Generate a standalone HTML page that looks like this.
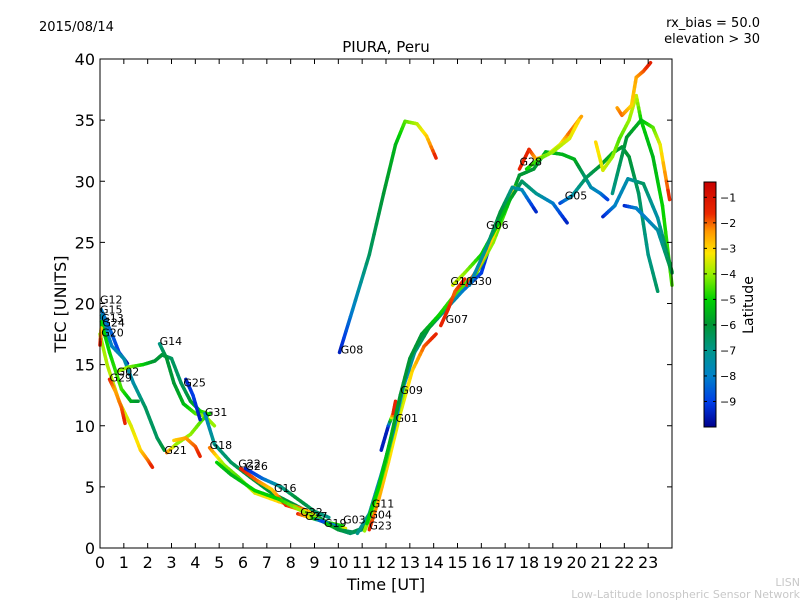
<!DOCTYPE html>
<html><head><meta charset="utf-8">
<style>
body{margin:0;background:#fff;}
svg text{font-family:"DejaVu Sans","Liberation Sans",sans-serif;}
</style></head>
<body>
<svg id="chart" width="800" height="600" xmlns="http://www.w3.org/2000/svg">
<rect width="800" height="600" fill="#fff"/>
<g id="tracks"></g>
<g id="axes"></g>
<text x="39" y="31" font-size="13">2015/08/14</text>
<text x="760" y="27" font-size="13" text-anchor="end">rx_bias = 50.0</text>
<text x="760" y="43" font-size="13" text-anchor="end">elevation &gt; 30</text>
<text x="386" y="52" font-size="15" text-anchor="middle">PIURA, Peru</text>
<text x="386" y="590" font-size="16" text-anchor="middle">Time [UT]</text>
<text x="66" y="304" font-size="16" text-anchor="middle" transform="rotate(-90 66 304)">TEC [UNITS]</text>
<text x="753" y="305" font-size="14" text-anchor="middle" transform="rotate(-90 753 305)">Latitude</text>
<text x="800" y="586" font-size="11" fill="#c8c8c8" text-anchor="end">LISN</text>
<text x="800" y="598" font-size="11" fill="#c8c8c8" text-anchor="end">Low-Latitude Ionospheric Sensor Network</text>
</svg>
<script>
const xTicks=[0,1,2,3,4,5,6,7,8,9,10,11,12,13,14,15,16,17,18,19,20,21,22,23];
const yTicks=[0,5,10,15,20,25,30,35,40];
const cbTicks=[-1,-2,-3,-4,-5,-6,-7,-8,-9];
// tracks: [time, tec, latitude]
const trkG12=[[0.05,19.5,-8],[0.5,17.5,-8.5],[0.8,16,-9],[1.15,15.1,-9.8]];
const trkG15=[[0.05,19,-7.5],[0.5,16.5,-8],[1.0,15.5,-7.5],[1.4,13.5,-7.5],[1.9,11.5,-6.5],[2.4,9,-6.5],[2.7,8,-6]];
const trkG24=[[0.05,18.5,-5],[0.4,16,-5],[0.9,13,-4.5],[1.3,12,-5.5],[1.6,12,-6]];
const trkG20=[[0.0,17.5,-4],[0.3,15,-3.8],[0.8,12,-3.5],[1.3,10,-3.5],[1.7,8,-3],[2.0,7.2,-2.2],[2.2,6.6,-1.5]];
const trkG29=[[0.4,13.8,-1.5],[0.65,12.8,-2.5],[0.9,11.5,-2],[1.05,10.2,-1.5]];
const trkG01a=[[0.0,16.6,-1],[0.05,18,-3]];
const trkG02=[[0.8,14.5,-4],[1.2,14.8,-4],[1.8,15,-5],[2.3,15.3,-6],[2.6,15.8,-6],[3.0,15.5,-6.5],[3.4,13.5,-6.5],[3.8,12,-6],[4.2,11.2,-5],[4.5,11,-4.5]];
const trkG14=[[2.5,16.7,-7],[2.8,15.5,-6],[3.1,13.5,-6],[3.5,11.8,-5.5],[4.0,11,-4.5],[4.4,10.8,-4],[4.8,10,-4]];
const trkG21=[[2.8,7.8,-2],[3.2,8.5,-4],[3.8,9.3,-4],[4.3,10.5,-4.5],[4.6,11,-5]];
const trkG21b=[[3.1,8.8,-3],[3.6,9,-2.5],[4.0,8.3,-2],[4.2,7.5,-1.5]];
const trkG25=[[3.6,13.8,-9.5],[3.9,12.5,-9],[4.2,10.5,-9.5]];
const trkG31=[[4.4,11,-8],[4.8,8.5,-7],[5.5,7,-6.5],[6.3,5.8,-6],[7.2,4.5,-6],[8.2,3.5,-6],[9.2,2.5,-6],[10.0,1.5,-6.5],[10.5,1.2,-6.5],[11.0,1.5,-7]];
const trkG18=[[4.6,8.2,-2],[5.2,6.8,-4],[5.8,5.8,-4.5],[6.5,4.5,-3.5],[7.5,3.8,-3],[8.5,3.2,-2],[9.0,2.8,-3]];
const trkG22=[[5.9,6.5,-1.5],[6.6,5.5,-2],[7.2,4.8,-3],[7.8,3.5,-1.5],[8.6,3,-3],[9.3,2.2,-4.5],[10.2,1.8,-5]];
const trkG26=[[6.1,6.5,-9.5],[6.8,5.7,-8.5],[7.6,5,-7],[8.3,4,-6],[9.0,3,-6.5],[9.6,2.5,-7]];
const trkG16=[[4.9,7,-5],[5.5,6,-5.5],[6.5,4.7,-5],[7.5,4,-5],[8.3,3.2,-4],[9.0,2.5,-4],[9.7,1.8,-5]];
const trkG32=[[8.3,2.8,-1.5],[8.8,2.5,-3],[9.3,2.2,-9],[9.9,1.8,-8],[10.3,1.6,-3]];
const trkG19=[[9.5,2,-5],[10,1.5,-6],[10.6,1.3,-6.5],[11.0,1.6,-6],[11.3,2.2,-6]];
const trkG23=[[11.3,1.5,-1.5],[11.7,4,-2.5],[12.1,7,-3],[12.6,11,-3.5],[13.1,14.5,-3],[13.6,16.5,-2],[14.1,17.5,-1.5]];
const trkG04=[[11.1,1.4,-4],[11.5,3.5,-4],[12.0,7,-4.5],[12.5,11,-4],[12.8,13,-4]];
const trkG11=[[10.8,1.2,-7],[11.3,2.8,-7],[11.8,6,-7.5],[12.3,9.5,-8],[12.7,13,-8],[13.2,16,-7],[13.8,18,-6],[14.5,19.5,-7],[15.2,21,-8],[16.0,22.5,-9],[16.4,25,-9.5]];
const trkG01=[[11.8,8,-9.5],[12.1,10,-9.5],[12.3,11,-1.5],[12.4,12,-1.5]];
const trkG09=[[11.2,2,-5],[11.7,5,-5],[12.2,9,-5.5],[12.6,12.5,-6],[13.0,15.5,-6],[13.5,17.5,-6],[14.2,19,-5],[15.0,21,-4.5],[15.8,22.5,-4.5],[16.5,25,-4],[17.2,28.5,-5],[17.6,30.5,-6],[18.2,31,-6],[18.7,32.4,-5.5],[19.4,32.2,-5.5],[19.9,31.8,-5.5],[20.3,30.5,-6.5],[20.6,29.5,-7.5],[21.0,29,-8],[21.3,28.5,-9]];
const trkG07=[[14.3,18.2,-1.5],[14.6,19.5,-1.5],[14.9,21,-2],[15.3,22,-1.5]];
const trkG30=[[15.4,21.5,-1.5],[15.9,23,-2.5],[16.5,25.5,-3],[17.0,28,-3.5],[17.4,29.5,-3]];
const trkG10=[[14.8,21.5,-3.5],[15.3,22.5,-4],[16.0,24,-5],[16.7,26.5,-5],[17.2,28.5,-5.5],[17.7,30,-6.5],[18.3,29,-7],[19.0,28.2,-8],[19.6,26.6,-9.5]];
const trkG06=[[15.5,21.5,-8],[16.2,24.5,-7],[16.8,27.5,-6],[17.3,29.5,-7],[17.7,29.3,-7.5],[18.3,27.5,-9.5]];
const trkG28=[[17.6,31,-1.5],[18.0,32.6,-1.5],[18.3,31.8,-2.5],[18.8,32.2,-3.5],[19.3,33,-3.5],[19.7,34,-2],[20.2,35.3,-2.5]];
const trkG28b=[[17.9,31,-5],[18.4,31.8,-4.5],[19.0,32.4,-4],[19.7,33.5,-3.5],[20.1,35,-3]];
const trkG05=[[19.3,28.2,-9],[19.8,28.8,-7.5],[20.4,30.3,-6.5],[21.0,31.3,-6],[21.5,32.3,-5.5],[21.9,32.8,-6],[22.2,32,-6],[22.6,29,-6.5],[23.0,24,-7],[23.4,21,-6.5]];
const trkG17=[[20.8,33.2,-3],[21.1,30.9,-3.5],[21.5,32,-4],[21.8,33.5,-4.5],[22.2,35,-4],[22.5,37,-3.5],[22.7,35,-5],[23.2,32,-5.5],[23.6,28,-5],[24.0,21.5,-4.5]];
const trkG13=[[21.7,36,-2.5],[21.9,35.4,-2],[22.3,36.2,-3],[22.5,38.5,-2.5],[22.8,39,-2],[23.1,39.7,-1.3]];
const trkG27=[[21.5,29,-7],[22.1,33.6,-6],[22.7,35,-5.5],[23.2,34.4,-4.5],[23.5,33,-3.5],[23.9,28.5,-1.5]];
const trkG03=[[21.1,27.1,-9.5],[21.6,28,-8],[22.15,30.2,-7.5],[22.8,29.8,-6.5],[23.4,27,-7.5],[24.0,22.6,-5.5]];
const trkG05b=[[22.0,28,-9.5],[22.5,27.8,-8],[22.9,27,-8],[23.4,26,-7.5],[24.0,22.5,-6]];
const trkG08=[[10.05,16,-9.6],[10.6,19.5,-8],[11.3,24,-6.5],[11.9,29,-6],[12.4,33,-5.5],[12.8,34.9,-4.5],[13.3,34.7,-3.8],[13.7,33.7,-3],[14.1,31.9,-1.5]];
const tracks=[trkG12,trkG15,trkG24,trkG20,trkG29,trkG01a,trkG02,trkG14,trkG21,trkG21b,trkG25,trkG31,trkG18,trkG22,trkG26,trkG16,trkG32,trkG19,trkG23,trkG04,trkG11,trkG01,trkG09,trkG07,trkG30,trkG10,trkG06,trkG28,trkG28b,trkG05,trkG17,trkG13,trkG27,trkG03,trkG05b,trkG08];
const labelNames=["G12","G15","G13","G24","G20","G14","G02","G29","G25","G31","G18","G21","G22","G26","G16","G32","G27","G19","G03","G11","G04","G23","G01","G09","G08","G07","G10","G30","G06","G28","G05"];
const labelT=[0.0,0.0,0.05,0.1,0.05,2.5,0.7,0.4,3.5,4.4,4.6,2.7,5.8,6.1,7.3,8.4,8.6,9.4,10.2,11.4,11.3,11.3,12.4,12.6,10.1,14.5,14.7,15.5,16.2,17.6,19.5];
const labelV=[20,19.2,18.5,18.1,17.3,16.6,14.1,13.6,13.2,10.8,8.1,7.7,6.6,6.4,4.6,2.6,2.3,1.7,2.0,3.3,2.4,1.5,10.3,12.6,15.9,18.4,21.5,21.5,26.1,31.3,28.5];

const NS="http://www.w3.org/2000/svg";
const X0=100,X1=672,Y0=548,Y1=59;
const xs=t=>X0+t*(X1-X0)/24;
const ys=v=>Y0-v*(Y0-Y1)/40;
const CBT=182,CBB=427,LMIN=-10,LMAX=-0.4;
const cy=l=>CBB-(l-LMIN)*(CBB-CBT)/(LMAX-LMIN);
const CMAP=[[0,0,0,140],[0.1,0,60,230],[0.21,0,130,200],[0.31,0,150,140],[0.42,0,150,50],[0.52,0,210,0],[0.625,150,240,0],[0.71,255,230,0],[0.8,255,150,0],[0.87,235,40,0],[1,200,0,0]];
function jet(f){f=Math.max(0,Math.min(1,f));
 for(let i=0;i<CMAP.length-1;i++){const a=CMAP[i],b=CMAP[i+1];
  if(f<=b[0]){const u=(f-a[0])/(b[0]-a[0]);
   return `rgb(${Math.round(a[1]+(b[1]-a[1])*u)},${Math.round(a[2]+(b[2]-a[2])*u)},${Math.round(a[3]+(b[3]-a[3])*u)})`;}}
 return 'rgb(200,0,0)';}
const lc=l=>jet((l-LMIN)/(LMAX-LMIN));
function mk(tag,attrs,parent){const e=document.createElementNS(NS,tag);for(const k in attrs)e.setAttribute(k,attrs[k]);parent.appendChild(e);return e;}
const tg=document.getElementById('tracks');
const ax=document.getElementById('axes');
tracks.forEach((tr,ti)=>{
 const g=mk('g',{},tg);
 
 
 for(let i=0;i<tr.length-1;i++){
  const a=tr[i],b=tr[i+1];const n=6;
  for(let k=0;k<n;k++){
   const f0=k/n,f1=(k+1)/n;
   const seg=mk('line',{x1:xs(a[0]+(b[0]-a[0])*f0),y1:ys(a[1]+(b[1]-a[1])*f0),x2:xs(a[0]+(b[0]-a[0])*f1),y2:ys(a[1]+(b[1]-a[1])*f1),stroke:lc(a[2]+(b[2]-a[2])*(f0+f1)/2),'stroke-width':3.5,'stroke-linecap':'round'},g);
   
   
  }
 }
});
labelNames.forEach((n,i)=>{
 const t=mk('text',{x:xs(labelT[i]),y:ys(labelV[i]),'font-size':11},tg);
 t.textContent=n;
 
 
});
const frame=mk('rect',{x:X0,y:Y1,width:X1-X0,height:Y0-Y1,fill:'none',stroke:'#000','stroke-width':1},ax);


xTicks.forEach(t=>{
 const x=xs(t);
 mk('line',{x1:x,y1:Y0,x2:x,y2:Y0-5,stroke:'#000'},ax);
 mk('line',{x1:x,y1:Y1,x2:x,y2:Y1+5,stroke:'#000'},ax);
 const l=mk('text',{x:x,y:Y0+20,'font-size':16,'text-anchor':'middle'},ax);
 l.textContent=t;
 
 
});
yTicks.forEach(v=>{
 const y=ys(v);
 mk('line',{x1:X0,y1:y,x2:X0+5,y2:y,stroke:'#000'},ax);
 mk('line',{x1:X1,y1:y,x2:X1-5,y2:y,stroke:'#000'},ax);
 const l=mk('text',{x:X0-5,y:y+6,'font-size':16,'text-anchor':'end'},ax);
 l.textContent=v;
 
 
});
const cb=mk('g',{},ax);


for(let y=CBT;y<CBB;y++){mk('rect',{x:704,y:y,width:12,height:1.2,fill:jet((CBB-y-0.5)/(CBB-CBT))},cb);}
mk('rect',{x:704,y:CBT,width:12,height:CBB-CBT,fill:'none',stroke:'#000'},cb);
cbTicks.forEach(l=>{
 const y=cy(l);
 mk('line',{x1:704,y1:y,x2:707,y2:y,stroke:'#000'},cb);
 mk('line',{x1:716,y1:y,x2:713,y2:y,stroke:'#000'},cb);
 const t=mk('text',{x:720,y:y+4,'font-size':11},cb);
 t.textContent='\u2212'+Math.abs(l);
 
 
});
</script>
</body></html>
